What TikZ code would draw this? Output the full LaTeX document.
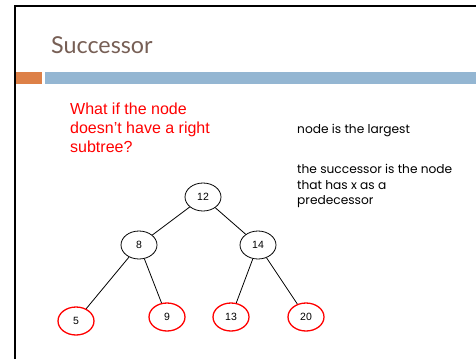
\documentclass[tikz,border=0pt]{standalone}
\usepackage{fontspec}
\setmainfont{Liberation Sans}
\newfontfamily\titlefont{Lato}
\newfontfamily\notefont{Poppins}
\usetikzlibrary{shapes.geometric}
\definecolor{titlebrown}{HTML}{775F55}
\definecolor{accentorange}{HTML}{DD8047}
\definecolor{accentblue}{HTML}{94B6D2}

\begin{document}
\begin{tikzpicture}[x=1pt,y=-1pt,
  treenode/.style={ellipse,draw=black,line width=0.8pt,minimum width=36pt,
    minimum height=28pt,inner sep=0pt,font=\fontsize{10.5}{12}\selectfont},
  leafnode/.style={treenode,draw=red,line width=1.3pt},
  edge/.style={draw=black,line width=0.8pt},
  note/.style={anchor=base west,inner sep=0pt,font=\notefont\fontsize{12.2}{14}\selectfont},
  question/.style={anchor=base west,inner sep=0pt,text=red,font=\fontsize{16}{19}\selectfont}]
\useasboundingbox[fill=white] (0,0) rectangle (476,359);

% slide frame and accent bars
\draw[line width=2pt] (15,359) -- (15,6) -- (476,6);
\fill[accentorange] (16,72) rectangle (42,84);
\fill[accentblue] (45,72) rectangle (476,84);

% title
\node[anchor=base west,inner sep=0pt,text=titlebrown,
  font=\titlefont\fontsize{23.3}{28}\selectfont] (title) at (51,53) {Successor};

% question
\node[question] (q1) at (70,114) {What if the node};
\node[question] (q2) at (70,133) {doesn't have a right};
\node[question] (q3) at (70,152) {subtree?};

% notes
\node[note] (n1) at (297,133) {node is the largest};
\node[note] (n2) at (297,173) {the successor is the node};
\node[note] (n3) at (297,189) {that has x as a};
\node[note] (n4) at (297,204) {predecessor};

% tree
\node[treenode] (t12) at (203,197) {12};
\node[treenode] (t8)  at (139,245) {8};
\node[treenode] (t14) at (258,245) {14};
\node[leafnode] (t5)  at (76,321)  {5};
\node[leafnode] (t9)  at (167,317) {9};
\node[leafnode] (t13) at (231,317) {13};
\node[leafnode] (t20) at (306,317) {20};

\draw[edge] (t12) -- (t8);
\draw[edge] (t12) -- (t14);
\draw[edge] (t8) -- (t5);
\draw[edge] (t8) -- (t9);
\draw[edge] (t14) -- (t13);
\draw[edge] (t14) -- (t20);
\end{tikzpicture}
\end{document}
